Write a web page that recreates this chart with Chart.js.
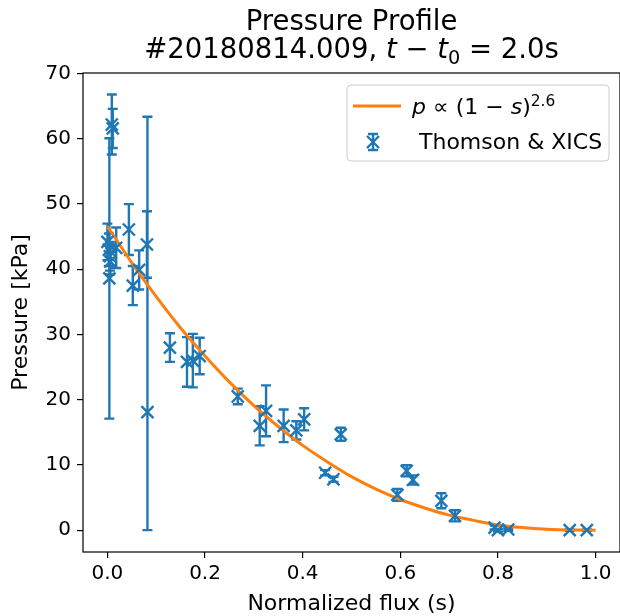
<!DOCTYPE html>
<html>
<head>
<meta charset="utf-8">
<script src="https://cdn.jsdelivr.net/npm/chart.js@4.4.1/dist/chart.umd.min.js"></script>
<style>
  html, body { margin: 0; padding: 0; background: #ffffff; }
</style>
</head>
<body>
<canvas id="pressure-chart" width="620" height="616"></canvas>
<script>
// measured points (normalized flux, pressure in kPa, error bar below / above)
const fluxS = [0.009, 0.011, 0.000, 0.003, 0.005, 0.006, 0.004, 0.018, 0.044, 0.052,
  0.065, 0.081, 0.082, 0.128, 0.163, 0.175, 0.189, 0.267, 0.312, 0.325,
  0.361, 0.387, 0.403, 0.446, 0.463, 0.478, 0.594, 0.613, 0.626, 0.684,
  0.712, 0.793, 0.800, 0.821, 0.947, 0.982];
const pressure = [62.2, 61.6, 44.2, 43.0, 42.0, 41.2, 38.6, 43.3, 46.1, 37.5,
  39.9, 43.8, 18.1, 28.0, 25.8, 26.0, 26.7, 20.5, 16.0, 18.3,
  16.0, 15.3, 17.0, 8.8, 7.8, 14.7, 5.4, 9.1, 7.7, 4.5,
  2.2, 0.4, 0.0, 0.1, 0.0, 0.0];
const errMinus = [4.6, 3.0, 2.8, 2.5, 2.2, 2.0, 21.5, 3.1, 3.9, 3.0,
  3.0, 5.1, 18.1, 2.2, 3.8, 4.1, 2.8, 1.2, 3.0, 3.9,
  2.5, 1.4, 1.7, 0.4, 0.4, 1.0, 0.9, 0.85, 0.7, 1.15,
  0.85, 0.3, 0.2, 0.2, 0.1, 0.1];
const errPlus = [4.6, 3.0, 2.8, 2.5, 2.2, 2.0, 21.5, 3.1, 3.9, 3.0,
  3.0, 5.1, 45.3, 2.2, 3.8, 4.1, 2.8, 1.2, 3.0, 3.9,
  2.5, 1.4, 1.7, 0.4, 0.4, 1.0, 0.9, 0.85, 0.7, 1.15,
  0.85, 0.3, 0.2, 0.2, 0.1, 0.1];

// fitted profile p ~ (1-s)^2.6
const fitS = [0, 0.05, 0.1, 0.15, 0.2, 0.25, 0.3, 0.35, 0.4, 0.45, 0.5,
  0.55, 0.6, 0.65, 0.7, 0.75, 0.8, 0.85, 0.9, 0.95, 1.0];
const fitP = [46.6, 41.0, 35.8, 31.0, 26.7, 22.7, 19.1, 15.9, 13.0, 10.5, 8.2,
  6.3, 4.7, 3.4, 2.3, 1.5, 0.8, 0.4, 0.15, 0.03, 0.0];

const xTickValues = [0, 0.2, 0.4, 0.6, 0.8, 1.0];
const yTickValues = [0, 10, 20, 30, 40, 50, 60, 70];

const BLUE = '#1f77b4';
const ORANGE = '#ff7f0e';
const FONT = '"DejaVu Sans", "Liberation Sans", sans-serif';

// bits of text with italics / sub / superscripts (matplotlib mathtext look-alike)
const titleLine1 = [{ t: 'Pressure Profile' }];
const titleLine2 = [
  { t: '#20180814.009, ' }, { t: 't', it: true }, { t: ' \u2212 ' },
  { t: 't', it: true }, { t: '0', sub: true }, { t: ' = 2.0s' }
];
const fitLabel = [
  { t: 'p', it: true }, { t: ' \u221d (1 \u2212 ' }, { t: 's', it: true },
  { t: ')' }, { t: '2.6', sup: true }
];
const dataLabel = [{ t: 'Thomson & XICS' }];

function drawRuns(ctx, runs, x, y, size, align) {
  let total = 0;
  const parts = runs.map(r => {
    const fs = (r.sub || r.sup) ? size * 0.7 : size;
    const font = (r.it ? 'oblique ' : '') + fs + 'px ' + FONT;
    ctx.font = font;
    const w = ctx.measureText(r.t).width;
    total += w;
    return { t: r.t, font: font, w: w, dy: r.sub ? size * 0.22 : (r.sup ? -size * 0.34 : 0) };
  });
  let cx = align === 'center' ? x - total / 2 : x;
  ctx.textAlign = 'left';
  ctx.textBaseline = 'alphabetic';
  for (const p of parts) {
    ctx.font = p.font;
    ctx.fillText(p.t, cx, y + p.dy);
    cx += p.w;
  }
}

function drawErrorBar(ctx, px, top, bot, cap) {
  ctx.beginPath();
  ctx.moveTo(px, top);
  ctx.lineTo(px, bot);
  ctx.moveTo(px - cap, top);
  ctx.lineTo(px + cap, top);
  ctx.moveTo(px - cap, bot);
  ctx.lineTo(px + cap, bot);
  ctx.stroke();
}

const errorBarPlugin = {
  id: 'errorBars',
  beforeDatasetsDraw(chart) {
    const { ctx, scales: { x, y } } = chart;
    ctx.save();
    ctx.strokeStyle = BLUE;
    ctx.lineWidth = 2.4;
    for (let i = 0; i < fluxS.length; i++) {
      const px = x.getPixelForValue(fluxS[i]);
      const top = y.getPixelForValue(pressure[i] + errPlus[i]);
      const bot = y.getPixelForValue(pressure[i] - errMinus[i]);
      drawErrorBar(ctx, px, top, bot, 5);
    }
    ctx.restore();
  }
};

const framePlugin = {
  id: 'frameAndText',
  afterDraw(chart) {
    const { ctx, chartArea: a } = chart;
    ctx.save();
    // spines
    ctx.strokeStyle = '#000000';
    ctx.lineWidth = 1.2;
    ctx.strokeRect(a.left, a.top, a.right - a.left, a.bottom - a.top);

    // title, centred over the axes
    const cx = (a.left + a.right) / 2;
    ctx.fillStyle = '#000000';
    drawRuns(ctx, titleLine1, cx, 30, 27.5, 'center');
    drawRuns(ctx, titleLine2, cx, 57.5, 27.5, 'center');

    // legend
    const lx = 347, ly = 85, lw = 262, lh = 76;
    ctx.beginPath();
    ctx.roundRect(lx, ly, lw, lh, 4);
    ctx.fillStyle = 'rgba(255,255,255,0.8)';
    ctx.fill();
    ctx.strokeStyle = '#cccccc';
    ctx.lineWidth = 1;
    ctx.stroke();

    ctx.strokeStyle = ORANGE;
    ctx.lineWidth = 3;
    ctx.beginPath();
    ctx.moveTo(353, 106);
    ctx.lineTo(401, 106);
    ctx.stroke();

    ctx.strokeStyle = BLUE;
    ctx.lineWidth = 2.4;
    drawErrorBar(ctx, 373, 134, 150, 5);
    ctx.beginPath();
    ctx.moveTo(367, 136);
    ctx.lineTo(379, 148);
    ctx.moveTo(379, 136);
    ctx.lineTo(367, 148);
    ctx.stroke();

    ctx.fillStyle = '#000000';
    drawRuns(ctx, fitLabel, 412, 113.5, 22, 'left');
    drawRuns(ctx, dataLabel, 419, 149, 22, 'left');
    ctx.restore();
  }
};

const points = fluxS.map((s, i) => ({ x: s, y: pressure[i] }));
const fitPoints = fitS.map((s, i) => ({ x: s, y: fitP[i] }));

const tickFont = { family: FONT, size: 20 };

const ctx = document.getElementById('pressure-chart').getContext('2d');

new Chart(ctx, {
  type: 'scatter',
  plugins: [errorBarPlugin, framePlugin],
  data: {
    datasets: [
      {
        label: 'Thomson & XICS',
        data: points,
        pointStyle: 'crossRot',
        pointRadius: 8.5,
        pointHoverRadius: 8.5,
        borderColor: BLUE,
        backgroundColor: BLUE,
        borderWidth: 2.4,
        order: 0,
      },
      {
        label: 'fit',
        data: fitPoints,
        showLine: true,
        pointRadius: 0,
        borderColor: ORANGE,
        backgroundColor: ORANGE,
        borderWidth: 3,
        cubicInterpolationMode: 'monotone',
        order: 1,
      },
    ],
  },
  options: {
    responsive: false,
    animation: false,
    events: [],
    layout: {
      autoPadding: false,
      padding: { left: 0, right: 0, top: 73, bottom: 0 },
    },
    scales: {
      x: {
        type: 'linear',
        min: -0.05,
        max: 1.05,
        afterBuildTicks: scale => {
          scale.ticks = xTickValues.map(v => ({ value: v }));
        },
        afterFit: scale => {
          scale.height = 64;
          scale.paddingLeft = 0;
          scale.paddingRight = 0;
        },
        ticks: {
          color: '#000000',
          font: tickFont,
          padding: 4,
          maxRotation: 0,
          autoSkip: false,
          callback: value => value.toFixed(1),
        },
        grid: {
          display: true,
          drawOnChartArea: false,
          drawTicks: true,
          tickLength: 6,
          color: '#000000',
          lineWidth: 1.2,
        },
        border: { display: false },
        title: {
          display: true,
          text: 'Normalized flux (s)',
          color: '#000000',
          font: { family: FONT, size: 22, lineHeight: 1.05 },
          padding: { top: 0, bottom: 0 },
        },
      },
      y: {
        type: 'linear',
        min: -3.35,
        max: 70.1,
        afterBuildTicks: scale => {
          scale.ticks = yTickValues.map(v => ({ value: v }));
        },
        afterFit: scale => {
          scale.width = 83;
          scale.paddingTop = 0;
          scale.paddingBottom = 0;
        },
        ticks: {
          color: '#000000',
          font: tickFont,
          padding: 6,
          autoSkip: false,
          callback: value => String(value),
        },
        grid: {
          display: true,
          drawOnChartArea: false,
          drawTicks: true,
          tickLength: 6,
          color: '#000000',
          lineWidth: 1.2,
        },
        border: { display: false },
        title: {
          display: true,
          text: 'Pressure [kPa]',
          color: '#000000',
          font: { family: FONT, size: 22 },
          padding: { top: 8, bottom: 0 },
        },
      },
    },
    plugins: {
      legend: { display: false },
      title: { display: false },
      tooltip: { enabled: false },
    },
  },
});
</script>
</body>
</html>
